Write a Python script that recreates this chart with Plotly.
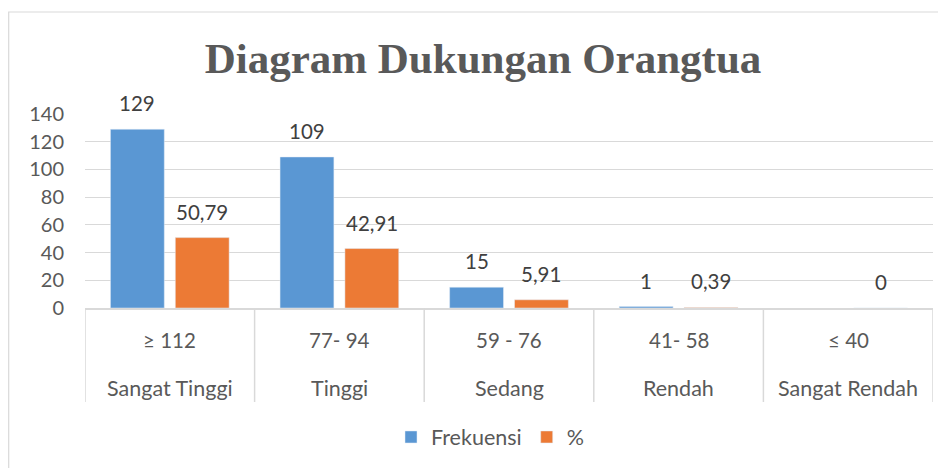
import plotly.graph_objects as go

# ---- data ----
ranges = ["≥ 112", "77- 94", "59 - 76", "41- 58", "≤ 40"]
levels = ["Sangat Tinggi", "Tinggi", "Sedang", "Rendah", "Sangat Rendah"]
frekuensi = [129, 109, 15, 1, None]
persen = [50.79, 42.91, 5.91, 0.39, 0]
y_ticks = [0, 20, 40, 60, 80, 100, 120, 140]

BLUE = "#5A97D3"
ORANGE = "#EC7A35"
GRID = "#D9D9D9"
TXT = "#595959"
FONT = "Lato, 'Open Sans', sans-serif"
BARGAP = 0.235
BARGROUPGAP = 0.17

# page is rendered with an 8px body margin; layout numbers below are figure pixels
W, H = 946, 468
L, T = 77, 106          # plot area left / top (figure px)
PW, PH = 848, 194       # plot area width / height
B = H - T - PH
R = W - L - PW


def py(pix):  # figure pixel y -> paper y
    return (T + PH - pix) / PH


def px(pix):  # figure pixel x -> paper x
    return (pix - L) / PW


def fmt(v):
    return f"{v:g}".replace(".", ",")


idx = list(range(len(ranges)))

fig = go.Figure()
fig.add_trace(go.Bar(name="Frekuensi", x=idx, y=frekuensi, marker_color=BLUE))
fig.add_trace(go.Bar(name="%", x=idx, y=persen, marker_color=ORANGE))

off = (1 - BARGAP) / 4
annotations = []
for series, sign in ((frekuensi, -1), (persen, 1)):
    for i, v in zip(idx, series):
        if v is None:
            continue
        annotations.append(dict(x=i + sign * off, y=v, xref="x", yref="y", text=fmt(v),
                                showarrow=False, yanchor="bottom", yshift=12,
                                font=dict(family=FONT, size=20.5, color="#404040")))

# category axis labels (two rows) and box dividers
shapes = []
for i in idx:
    annotations.append(dict(x=i, y=py(332), xref="x", yref="paper", text=ranges[i],
                            showarrow=False, yanchor="middle",
                            font=dict(family=FONT, size=20.5, color=TXT)))
    annotations.append(dict(x=i, y=py(380), xref="x", yref="paper", text=levels[i],
                            showarrow=False, yanchor="middle",
                            font=dict(family=FONT, size=21.5, color=TXT)))
for b in [i - 0.5 for i in idx] + [len(idx) - 0.5]:
    shapes.append(dict(type="line", xref="x", yref="paper", x0=b, x1=b, y0=0, y1=py(394),
                       line=dict(color=GRID, width=1.5)))
# outer chart border (partly cut off at right / bottom like the reference)
shapes.append(dict(type="rect", xref="paper", yref="paper",
                   x0=px(0.7), x1=px(W + 20), y0=py(4), y1=py(H + 20),
                   line=dict(color=GRID, width=1.2), fillcolor="rgba(0,0,0,0)", layer="below"))

fig.update_layout(
    width=W, height=H,
    margin=dict(l=L, r=R, t=T, b=B),
    paper_bgcolor="white", plot_bgcolor="white",
    barmode="group", bargap=BARGAP, bargroupgap=BARGROUPGAP,
    title=dict(text="<b>Diagram Dukungan Orangtua</b>", x=(483 - 8) / W, xanchor="center",
               y=1 - 50 / H, yanchor="middle", yref="container",
               font=dict(family="'Liberation Serif', 'Times New Roman', serif", size=43, color=TXT)),
    xaxis=dict(range=[-0.5, len(idx) - 0.5], showticklabels=False, showgrid=False,
               zeroline=False, showline=True, linecolor=GRID, linewidth=1.5, ticks=""),
    yaxis=dict(range=[0, 140], tickvals=y_ticks, showgrid=True, gridcolor=GRID, gridwidth=1.3,
               zeroline=False, showline=False, ticks="", ticklabelstandoff=20,
               tickfont=dict(family=FONT, size=20, color=TXT)),
    legend=dict(orientation="h", x=px(482), xanchor="center", y=py(429), yanchor="middle",
                font=dict(family=FONT, size=21.5, color=TXT), traceorder="normal"),
    annotations=annotations, shapes=shapes,
)

fig.write_html("out.html")
